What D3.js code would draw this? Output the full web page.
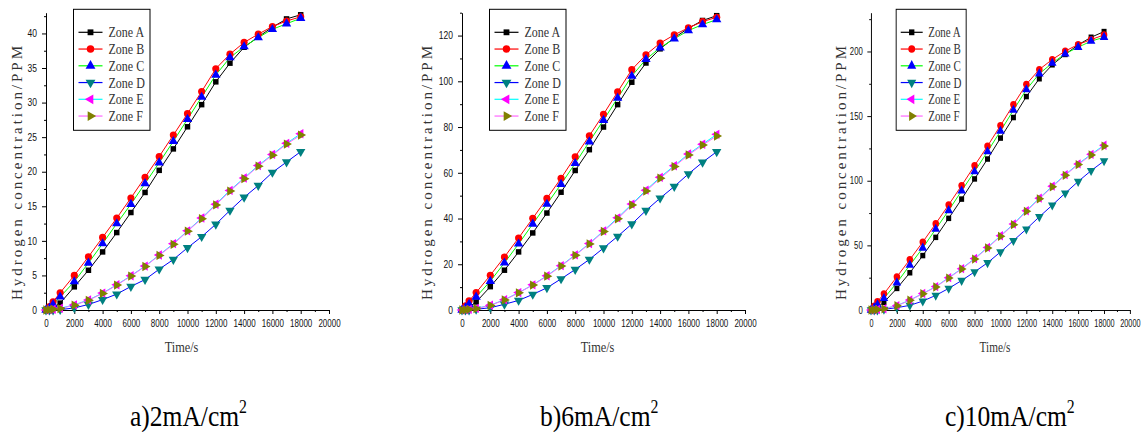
<!DOCTYPE html>
<html>
<head>
<meta charset="utf-8">
<script src="https://cdn.jsdelivr.net/npm/d3@7"></script>
<style>
  html, body { margin: 0; padding: 0; background: #fff; }
  svg { display: block; }
</style>
</head>
<body>
<script>
// Sampling times (s)
const timeS = [0, 250, 500, 1000, 2000, 3000, 4000, 5000, 6000, 7000, 8000, 9000,
  10000, 11000, 12000, 13000, 14000, 15000, 16000, 17000, 18000];

// Hydrogen concentration (PPM) at 2 mA/cm2
const zoneA_2 = [0, 0.1, 0.4, 1.0, 3.35, 5.75, 8.4, 11.2, 14.1, 17.0, 20.2, 23.3, 26.5, 29.7, 33.0, 35.7, 38.0, 39.5, 40.9, 42.1, 42.7];
const zoneB_2 = [0, 0.5, 1.2, 2.5, 5.0, 7.7, 10.5, 13.3, 16.2, 19.2, 22.2, 25.3, 28.4, 31.6, 34.9, 37.0, 38.7, 39.9, 41.0, 41.8, 42.4];
const zoneC_2 = [0, 0.3, 0.8, 1.9, 4.1, 6.8, 9.6, 12.5, 15.3, 18.3, 21.3, 24.4, 27.6, 30.8, 34.0, 36.5, 38.1, 39.4, 40.6, 41.4, 42.2];
const zoneD_2 = [0, 0, 0, 0.05, 0.3, 0.8, 1.5, 2.3, 3.4, 4.4, 5.9, 7.3, 9.0, 10.6, 12.4, 14.4, 16.3, 18.0, 19.9, 21.4, 22.9];
const zoneE_2 = [0, 0.05, 0.1, 0.25, 0.75, 1.45, 2.45, 3.65, 4.95, 6.35, 7.95, 9.6, 11.45, 13.3, 15.3, 17.3, 19.1, 20.9, 22.5, 24.1, 25.5];
const zoneF_2 = [0, 0.05, 0.1, 0.2, 0.7, 1.4, 2.4, 3.6, 4.9, 6.3, 7.9, 9.5, 11.4, 13.2, 15.2, 17.2, 19.0, 20.8, 22.4, 24.0, 25.3];

// Hydrogen concentration (PPM) at 6 mA/cm2
const zoneA_6 = [0, 0.5, 1.3, 3.5, 10.2, 17.4, 25.4, 33.7, 42.4, 51.5, 61.0, 70.1, 80.0, 89.8, 99.6, 108.0, 114.2, 119.0, 123.2, 126.6, 128.7];
const zoneB_6 = [0, 1.8, 4.0, 7.6, 15.2, 23.2, 31.5, 40.1, 48.8, 57.6, 67.0, 76.2, 85.6, 95.4, 105.1, 111.6, 116.7, 120.3, 123.4, 126.1, 128.0];
const zoneC_6 = [0, 1.0, 2.5, 5.7, 12.6, 20.6, 28.9, 37.6, 46.3, 55.0, 64.1, 73.6, 83.0, 92.7, 102.3, 109.6, 114.7, 118.6, 122.2, 124.8, 127.0];
const zoneD_6 = [0, 0, 0, 0.3, 1.0, 2.5, 4.2, 6.8, 9.7, 13.6, 17.7, 22.1, 27.1, 32.2, 37.6, 43.5, 48.9, 54.0, 59.5, 64.6, 69.2];
const zoneE_6 = [0, 0.1, 0.3, 0.7, 2.1, 4.5, 7.6, 11.0, 15.0, 19.4, 24.1, 29.1, 34.6, 40.3, 46.3, 52.4, 58.0, 63.1, 68.2, 72.5, 76.8];
const zoneF_6 = [0, 0.1, 0.3, 0.6, 2.0, 4.4, 7.5, 10.9, 14.8, 19.2, 23.9, 28.9, 34.3, 39.9, 45.9, 52.0, 57.6, 62.7, 67.8, 72.1, 76.1];

// Hydrogen concentration (PPM) at 10 mA/cm2
const zoneA_10 = [0, 0.8, 2.2, 6.0, 16.7, 28.8, 42.1, 56.2, 70.9, 85.8, 101.4, 116.8, 133.0, 148.9, 165.1, 178.9, 189.7, 197.7, 205.1, 211.0, 215.4];
const zoneB_10 = [0, 3.0, 6.5, 12.5, 25.7, 39.0, 52.6, 66.8, 81.4, 96.3, 111.7, 126.8, 142.7, 158.9, 174.6, 186.1, 193.8, 200.3, 205.4, 209.2, 212.8];
const zoneC_10 = [0, 1.8, 4.2, 9.0, 21.1, 34.7, 48.0, 62.6, 77.0, 92.2, 107.1, 122.5, 138.4, 154.6, 170.5, 182.8, 191.0, 198.2, 203.3, 208.0, 211.0];
const zoneD_10 = [0, 0, 0, 0.5, 1.8, 3.6, 6.9, 11.3, 16.7, 22.8, 29.5, 36.5, 44.9, 53.7, 62.6, 72.1, 81.1, 90.4, 99.4, 107.8, 115.3];
const zoneE_10 = [0, 0.2, 0.4, 1.0, 3.4, 7.7, 12.8, 18.1, 25.0, 32.0, 39.8, 48.4, 57.4, 66.5, 76.8, 86.5, 95.8, 104.7, 113.0, 120.4, 127.5];
const zoneF_10 = [0, 0.2, 0.4, 0.9, 3.3, 7.5, 12.6, 17.8, 24.7, 31.7, 39.4, 48.0, 57.0, 66.0, 76.3, 86.0, 95.3, 104.2, 112.5, 119.9, 126.8];

// Series names and axis ticks
const zoneNames = ["Zone A", "Zone B", "Zone C", "Zone D", "Zone E", "Zone F"];
const xTicks = [0, 2000, 4000, 6000, 8000, 10000, 12000, 14000, 16000, 18000, 20000];
const xMinorTicks = [1000, 3000, 5000, 7000, 9000, 11000, 13000, 15000, 17000, 19000];
const yTicks_2 = [0, 5, 10, 15, 20, 25, 30, 35, 40];
const yMinor_2 = [2.5, 7.5, 12.5, 17.5, 22.5, 27.5, 32.5, 37.5, 42.5];
const yTicks_6 = [0, 20, 40, 60, 80, 100, 120];
const yMinor_6 = [10, 30, 50, 70, 90, 110, 130];
const yTicks_10 = [0, 50, 100, 150, 200];
const yMinor_10 = [25, 75, 125, 175, 225];
const captions = ["a)2mA/cm", "b)6mA/cm", "c)10mA/cm"];

// Line and marker styling per zone
const lineColors = ["#000000", "#ff0000", "#00ff00", "#0000ff", "#00ffff", "#ff66ff"];
const markerColors = ["#000000", "#ff0000", "#0000ff", "#008080", "#ff00ff", "#808000"];
const markerShapes = [
  { type: d3.symbolSquare, size: 30, rot: 0 },
  { type: d3.symbolCircle, size: 40, rot: 0 },
  { type: d3.symbolTriangle, size: 38, rot: 0 },
  { type: d3.symbolTriangle, size: 38, rot: 180 },
  { type: d3.symbolTriangle, size: 38, rot: -90 },
  { type: d3.symbolTriangle, size: 38, rot: 90 }
];

const svg = d3.select("body").append("svg")
  .attr("width", 1144).attr("height", 432);

const plotW = 283, plotTop = 12.7, plotBottom = 310;

const panels = [
  { x0: 46, sx: 1, yMax: 43, ticks: yTicks_2, minor: yMinor_2, labelDx: -29, capX: 130,
    series: [zoneA_2, zoneB_2, zoneC_2, zoneD_2, zoneE_2, zoneF_2] },
  { x0: 462, sx: 1, yMax: 130, ticks: yTicks_6, minor: yMinor_6, labelDx: -35, capX: 540,
    series: [zoneA_6, zoneB_6, zoneC_6, zoneD_6, zoneE_6, zoneF_6] },
  { x0: 871, sx: 0.915, yMax: 230, ticks: yTicks_10, minor: yMinor_10, labelDx: -33, capX: 945,
    series: [zoneA_10, zoneB_10, zoneC_10, zoneD_10, zoneE_10, zoneF_10] }
];

const tickFont = "'Liberation Sans', Arial, sans-serif";
const serifFont = "'Liberation Serif', 'Times New Roman', serif";

panels.forEach((p, pi) => {
  const g = svg.append("g").attr("transform", `translate(${p.x0},0) scale(${p.sx},1)`);
  const x = d3.scaleLinear().domain([0, 20000]).range([0, plotW]);
  const y = d3.scaleLinear().domain([0, p.yMax]).range([plotBottom, plotTop]);

  // Minor ticks
  g.append("g").attr("transform", `translate(0,${plotBottom})`)
    .call(d3.axisBottom(x).tickValues(xMinorTicks).tickSize(2).tickSizeOuter(0).tickFormat(""))
    .call(s => s.select(".domain").remove());
  g.append("g")
    .call(d3.axisLeft(y).tickValues(p.minor).tickSize(2).tickSizeOuter(0).tickFormat(""))
    .call(s => s.select(".domain").remove());

  // Major axes
  const xa = g.append("g").attr("transform", `translate(0,${plotBottom})`)
    .call(d3.axisBottom(x).tickValues(xTicks).tickSize(4).tickSizeOuter(0).tickPadding(6).tickFormat(d3.format("d")));
  xa.selectAll("text").attr("font-family", tickFont).attr("font-size", 10)
    .attr("fill", "#111").attr("transform", "scale(0.8,1)");
  const ya = g.append("g")
    .call(d3.axisLeft(y).tickValues(p.ticks).tickSize(4).tickSizeOuter(0).tickPadding(5).tickFormat(d3.format("d")));
  ya.selectAll("text").attr("font-family", tickFont).attr("font-size", 10)
    .attr("fill", "#111").attr("x", -9 / 0.85).attr("transform", "scale(0.85,1)");
  g.selectAll(".domain, .tick line").attr("stroke", "#000");

  // Axis titles
  g.append("text")
    .attr("transform", `translate(${p.labelDx},173) rotate(-90)`)
    .attr("text-anchor", "middle").attr("dy", "0.35em")
    .attr("font-family", serifFont).attr("font-size", 15).attr("fill", "#333")
    .attr("textLength", 254).attr("lengthAdjust", "spacing")
    .text("Hydrogen concentration/PPM");
  g.append("text")
    .attr("transform", `translate(${plotW / 2 - 6},352) scale(0.85,1)`)
    .attr("text-anchor", "middle")
    .attr("font-family", serifFont).attr("font-size", 14.5).attr("fill", "#333")
    .text("Time/s");

  // Series lines then markers
  const line = d3.line().x((d, i) => x(timeS[i])).y(d => y(d));
  p.series.forEach((vals, si) => {
    g.append("path").datum(vals)
      .attr("d", line).attr("fill", "none")
      .attr("stroke", lineColors[si]).attr("stroke-width", 1);
  });
  p.series.forEach((vals, si) => {
    const m = markerShapes[si];
    const sym = d3.symbol().type(m.type).size(m.size);
    g.append("g").selectAll("path").data(vals).join("path")
      .attr("d", sym)
      .attr("transform", (d, i) => `translate(${x(timeS[i])},${y(d)}) rotate(${m.rot})`)
      .attr("fill", markerColors[si]);
  });

  // Legend
  const lg = g.append("g").attr("transform", "translate(27.5,9.3)");
  lg.append("rect").attr("width", 76.5).attr("height", 121)
    .attr("fill", "#fff").attr("stroke", "#000").attr("stroke-width", 1);
  zoneNames.forEach((name, si) => {
    const yy = 23 + si * 16.75;
    lg.append("line").attr("x1", 5).attr("x2", 29).attr("y1", yy).attr("y2", yy)
      .attr("stroke", lineColors[si]).attr("stroke-width", 1.2);
    const m = markerShapes[si];
    lg.append("path").attr("d", d3.symbol().type(m.type).size(m.size + 4))
      .attr("transform", `translate(17,${yy}) rotate(${m.rot})`)
      .attr("fill", markerColors[si]);
    lg.append("text")
      .attr("transform", `translate(35,${yy + 5}) scale(0.8,1)`)
      .attr("font-family", serifFont).attr("font-size", 15).attr("fill", "#333")
      .text(name);
  });

  // Panel caption
  const cap = svg.append("text")
    .attr("transform", `translate(${p.capX},426) scale(0.88,1)`)
    .attr("font-family", serifFont).attr("font-size", 29).attr("fill", "#000")
    .text(captions[pi]);
  cap.append("tspan").attr("dy", -13).attr("font-size", 18).text("2");
});
</script>
</body>
</html>
